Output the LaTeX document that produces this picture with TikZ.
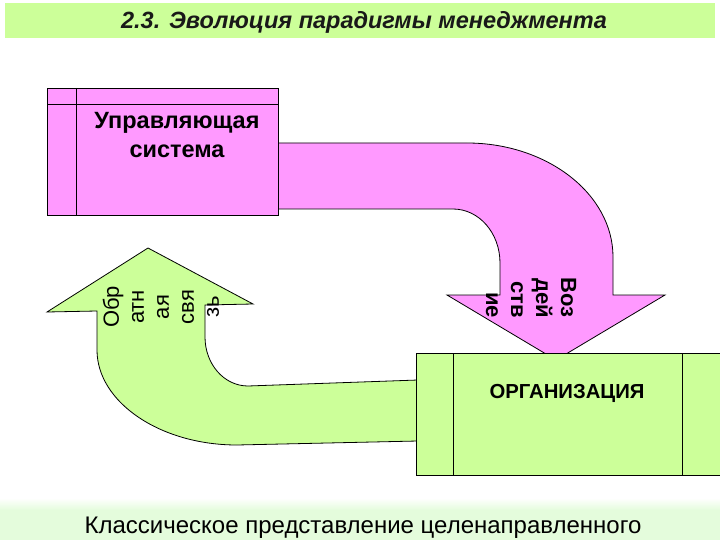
\documentclass[tikz,border=0pt]{standalone}
\usepackage{fontspec}
\setmainfont{Liberation Sans}
\begin{document}
\begin{tikzpicture}[x=1pt,y=-1pt,
  outline/.style={draw=black,line width=0.8pt},
  pinkfill/.style={outline,fill=pinkc},
  greenfill/.style={outline,fill=greenc},
  rottext/.style={inner sep=0pt,font=\fontsize{22}{25}\selectfont},
  boxtext/.style={inner sep=0pt,font=\bfseries\fontsize{23.5}{29}\selectfont,align=center}]
\definecolor{pinkc}{HTML}{FF99FF}
\definecolor{greenc}{HTML}{CCFF99}
\definecolor{bandg}{HTML}{CCFF99}
\definecolor{paleg}{HTML}{E4FCDC}
\clip (0,0) rectangle (720,540);
\fill[white] (0,0) rectangle (720,540);
% title band
\fill[bandg] (5,3) rectangle (715,38);
\node[inner sep=0pt,font=\bfseries\itshape\fontsize{23.5}{26}\selectfont,text=black!90,anchor=base] (title) at (364,29) {2.3. Эволюция парадигмы менеджмента};
% bottom band
\shade[top color=white,bottom color=paleg] (0,498) rectangle (720,510);
\fill[paleg] (0,510) rectangle (720,540);
\node[inner sep=0pt,font=\fontsize{24}{28}\selectfont,anchor=base] (caption) at (363,533) {Классическое представление целенаправленного};
% pink arrow (action)
\path[pinkfill] (278,143) -- (467,143) .. controls (547,143) and (613,194) .. (613,257)
  -- (613,295) -- (665,295) -- (556,360) -- (447,295) -- (500,295) -- (500,263)
  .. controls (500,233) and (479,209) .. (453,209) -- (278,209) -- cycle;
\node[rottext,font=\bfseries\fontsize{22}{25}\selectfont,rotate=-90,align=right,anchor=east] (vozd) at (531,318) {Воз\\дей\\ств\\ие};
% control system box
\path[pinkfill] (47,88) rectangle (278,215);
\draw[outline] (76,88) -- (76,215);
\draw[outline] (47,104) -- (278,104);
\node[boxtext,anchor=base] (ctrl) at (177,158) {Управляющая\\система};
% green arrow (feedback)
\path[greenfill] (418,380) -- (248,386) .. controls (224,386) and (205,364) .. (205,337)
  -- (205,305) -- (253,304) -- (148,248) -- (47,312) -- (97,311) -- (97,350)
  .. controls (97,402) and (160,445) .. (237,445) -- (418,441) -- cycle;
\node[rottext,rotate=90,align=center] (obr) at (161,307) {Обр\\атн\\ая\\свя\\зь};
% organization box
\path[greenfill] (416,353) rectangle (730,475);
\draw[outline] (453,353) -- (453,475);
\draw[outline] (682,353) -- (682,475);
\node[inner sep=0pt,font=\bfseries\fontsize{20.3}{23}\selectfont] (org) at (567,393) {ОРГАНИЗАЦИЯ};
\end{tikzpicture}
\end{document}
